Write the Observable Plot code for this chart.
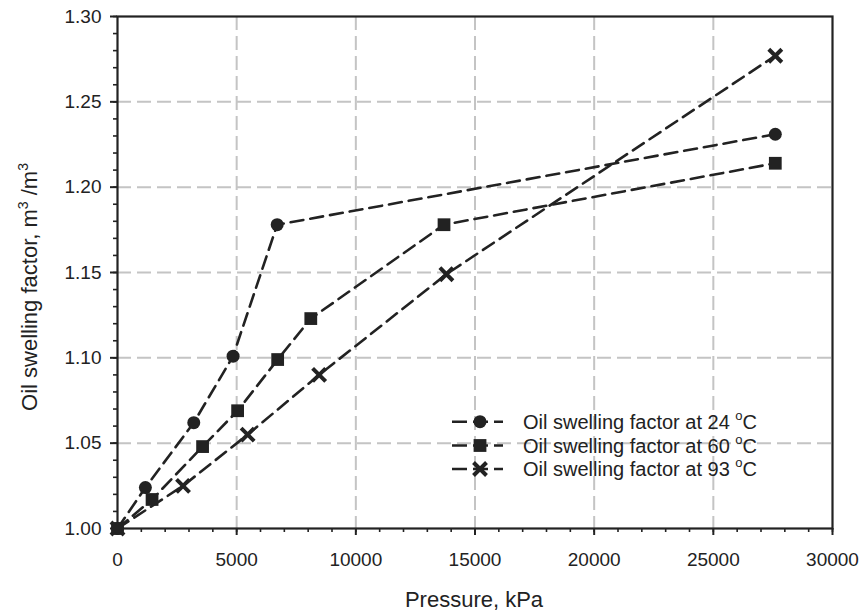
<!DOCTYPE html>
<html>
<head>
<meta charset="utf-8">
<script src="https://cdn.jsdelivr.net/npm/d3@7"></script>
<script src="https://cdn.jsdelivr.net/npm/@observablehq/plot@0.6"></script>
<style>
  html, body { margin: 0; padding: 0; background: #fff; }
  #wrap { position: relative; width: 860px; height: 614px; }
  #legend { position: absolute; left: 440px; top: 400px; }
</style>
</head>
<body>
<div id="wrap"></div>
<script>
// ---- data ----
const seriesNames = ["Oil swelling factor at 24", "Oil swelling factor at 60", "Oil swelling factor at 93"];
const pressure24 = [0, 1170, 3200, 4850, 6700, 27600];
const swell24    = [1.000, 1.024, 1.062, 1.101, 1.178, 1.231];
const pressure60 = [0, 1450, 3570, 5040, 6720, 8110, 13700, 27600];
const swell60    = [1.000, 1.017, 1.048, 1.069, 1.099, 1.123, 1.178, 1.214];
const pressure93 = [0, 2750, 5460, 8460, 13800, 27600];
const swell93    = [1.000, 1.025, 1.055, 1.090, 1.149, 1.277];

const xTicks = [0, 5000, 10000, 15000, 20000, 25000, 30000];
const xMinorTicks = d3.range(0, 30001, 1000);
const yTicks = [1.00, 1.05, 1.10, 1.15, 1.20, 1.25, 1.30];
const yMinorTicks = d3.range(0, 31).map(i => 1 + i / 100);
const xGridTicks = [5000, 10000, 15000, 20000, 25000];
const yGridTicks = [1.05, 1.10, 1.15, 1.20, 1.25];

const toRows = (xs, ys, s) => xs.map((x, i) => ({pressure: x, swell: ys[i], series: s}));
const d24 = toRows(pressure24, swell24, seriesNames[0]);
const d60 = toRows(pressure60, swell60, seriesNames[1]);
const d93 = toRows(pressure93, swell93, seriesNames[2]);
const all = [...d24, ...d60, ...d93];

const ink = "#222";
const gridStyle = {stroke: "#c4c4c4", strokeOpacity: 1, strokeWidth: 2, strokeDasharray: "14,6"};

const chart = Plot.plot({
  width: 860,
  height: 614,
  marginLeft: 117,
  marginRight: 28,
  marginTop: 16,
  marginBottom: 86,
  style: {fontFamily: "'Liberation Sans', Arial, sans-serif", fontSize: "19px", color: ink, background: "white", overflow: "visible"},
  x: {domain: [0, 30000]},
  y: {domain: [1.0, 1.3]},
  marks: [
    Plot.gridX(xGridTicks, gridStyle),
    Plot.gridY(yGridTicks, gridStyle),
    Plot.axisX(xMinorTicks, {tickSize: 4, text: null, label: null, strokeWidth: 1.6}),
    Plot.axisX(xTicks, {tickSize: 7, tickPadding: 17, tickFormat: d => String(d), label: null, strokeWidth: 2, fontSize: 19}),
    Plot.axisY(yMinorTicks, {tickSize: 4, text: null, label: null, strokeWidth: 1.6}),
    Plot.axisY(yTicks, {tickSize: 7, tickPadding: 9, tickFormat: d3.format(".2f"), label: null, strokeWidth: 2, fontSize: 19}),
    Plot.frame({stroke: ink, strokeWidth: 2.2}),
    Plot.line(all, {x: "pressure", y: "swell", z: "series", stroke: ink, strokeWidth: 2.6, strokeDasharray: "13,7"}),
    Plot.dot(d24, {x: "pressure", y: "swell", symbol: "circle", r: 6.5, fill: ink, stroke: "none"}),
    Plot.dot(d60, {x: "pressure", y: "swell", symbol: "square", r: 7.2, fill: ink, stroke: "none"}),
    Plot.dot(d93, {x: "pressure", y: "swell", symbol: "times", r: 6, stroke: ink, strokeWidth: 4, fill: "none"})
  ]
});

const svg = d3.select(chart);
// x-axis title
svg.append("text")
  .attr("x", 474).attr("y", 607)
  .attr("text-anchor", "middle")
  .attr("fill", ink)
  .style("font-size", "22px")
  .text("Pressure, kPa");
// y-axis title with superscripts
const yt = svg.append("text")
  .attr("transform", "translate(37,287) rotate(-90)")
  .attr("text-anchor", "middle")
  .attr("fill", ink)
  .style("font-size", "22px");
yt.append("tspan").text("Oil swelling factor, m");
yt.append("tspan").attr("dy", -9).style("font-size", "14px").text("3");
yt.append("tspan").attr("dy", 9).text(" /m");
yt.append("tspan").attr("dy", -9).style("font-size", "14px").text("3");

document.getElementById("wrap").appendChild(chart);

// legend (inside plot area, lower right)
const symbols = ["circle", "square", "times"];
const lg = d3.select("#wrap").append("svg")
  .attr("id", "legend")
  .attr("width", 340).attr("height", 90)
  .style("font-family", "'Liberation Sans', Arial, sans-serif");
const rowY = [21.7, 45.5, 69];
seriesNames.forEach((name, i) => {
  const g = lg.append("g").attr("transform", `translate(0,${rowY[i]})`);
  g.append("line").attr("x1", 12).attr("x2", 63).attr("y1", 0).attr("y2", 0)
    .attr("stroke", ink).attr("stroke-width", 2.6).attr("stroke-dasharray", "15,6");
  if (symbols[i] === "circle") {
    g.append("circle").attr("cx", 40).attr("cy", 0).attr("r", 6.5).attr("fill", ink);
  } else if (symbols[i] === "square") {
    g.append("rect").attr("x", 33.6).attr("y", -6.4).attr("width", 12.8).attr("height", 12.8).attr("fill", ink);
  } else {
    g.append("path").attr("d", "M33.5,-6.5L46.5,6.5M33.5,6.5L46.5,-6.5").attr("stroke", ink).attr("stroke-width", 4).attr("fill", "none");
  }
  const t = g.append("text").attr("x", 83).attr("y", 7)
    .attr("fill", ink).style("font-size", "20px");
  t.append("tspan").text(name + " ");
  t.append("tspan").attr("dy", -9).style("font-size", "13px").text("o");
  t.append("tspan").attr("dy", 9).text("C");
});
</script>
</body>
</html>
